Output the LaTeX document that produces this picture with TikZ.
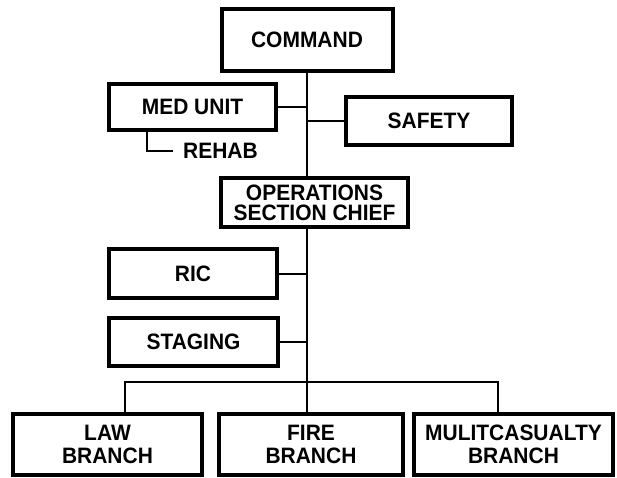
\documentclass[tikz,border=0pt]{standalone}
\usepackage{fontspec}
\setmainfont{Liberation Sans}[FakeStretch=0.94]
\begin{document}
\begin{tikzpicture}[x=1pt,y=-1pt,
  unitbox/.style={draw=black, line width=4pt, fill=white, inner sep=0pt, outer sep=0pt,
    align=center, font=\fontsize{22.3}{20}\selectfont\bfseries},
  branchbox/.style={unitbox, font=\fontsize{22.3}{23.3}\selectfont\bfseries},
  link/.style={draw=black, line width=2pt}]
  \useasboundingbox (0,0) rectangle (617,477);

  % boxes
  \node[unitbox, minimum width=171pt, minimum height=62pt] (cmd) at (307,40) {COMMAND};
  \node[unitbox, minimum width=167pt, minimum height=46pt] (med) at (192.5,107) {MED UNIT};
  \node[unitbox, minimum width=166pt, minimum height=48pt] (safety) at (429,121) {SAFETY};
  \node[unitbox, minimum width=187pt, minimum height=49pt] (ops) at (314.5,202.5) {OPERATIONS\\SECTION CHIEF};
  \node[unitbox, minimum width=168pt, minimum height=49pt] (ric) at (193,273.5) {RIC};
  \node[unitbox, minimum width=169pt, minimum height=48pt] (staging) at (193.5,342) {STAGING};
  \node[branchbox, minimum width=189pt, minimum height=61pt] (law) at (107.5,444.5) {LAW\\BRANCH};
  \node[branchbox, minimum width=184pt, minimum height=61pt] (fire) at (311,444.5) {FIRE\\BRANCH};
  \node[branchbox, minimum width=199pt, minimum height=61pt] (multi) at (513.5,444.5) {MULITCASUALTY\\BRANCH};

  % rehab label under the medical unit
  \node[anchor=west, inner xsep=10pt, inner ysep=0pt, font=\fontsize{22.3}{22}\selectfont\bfseries] (rehab) at (173,151) {REHAB};
  \coordinate (rehabcorner) at (147,151);

  % bus above the branches
  \coordinate (busL) at (125,382);
  \coordinate (busR) at (498,382);

  % trunk and side links
  \draw[link] (cmd.south) -- (cmd.south |- ops.north);
  \draw[link] (cmd.south |- ops.south) -- (cmd.south |- fire.north);
  \draw[link] (med.east) -- (med.east -| cmd.south);
  \draw[link] (safety.west) -- (safety.west -| cmd.south);
  \draw[link] (ric.east) -- (ric.east -| cmd.south);
  \draw[link] (staging.east) -- (staging.east -| cmd.south);
  \draw[link] (rehabcorner |- med.south) -- (rehabcorner) -- (rehab.west);
  \draw[link] (busL |- law.north) -- (busL) -- (busR) -- (busR |- multi.north);
\end{tikzpicture}
\end{document}
